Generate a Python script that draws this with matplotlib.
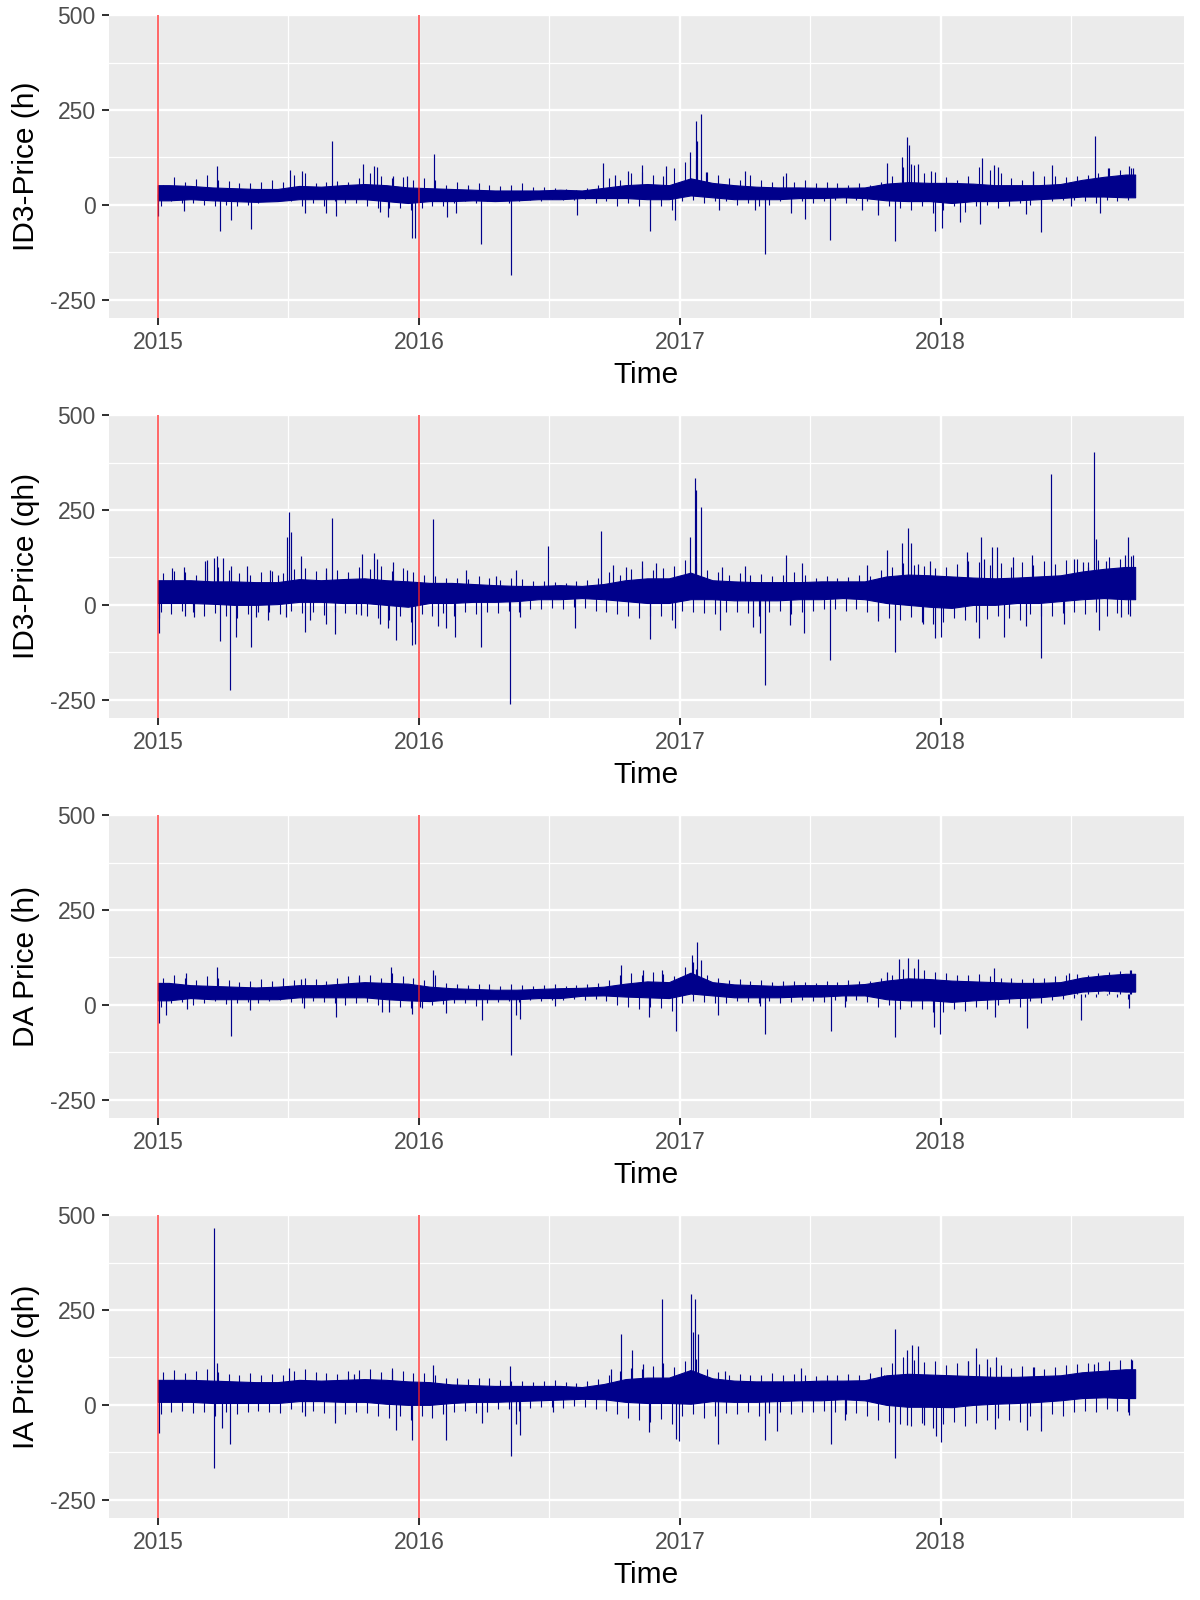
import numpy as np
import matplotlib
matplotlib.use("Agg")
import matplotlib.pyplot as plt

plt.rcParams['font.family'] = ['Liberation Sans', 'DejaVu Sans']

# ---------------- data ----------------
# time in decimal years; series span
t_start = 2015.0
t_end = 2018.745
red_lines = [2015.0, 2016.0]

panel_labels = ["ID3-Price (h)", "ID3-Price (qh)", "DA Price (h)", "IA Price (qh)"]

# monthly envelope of the dense core band (Jan 2015 .. Sep 2018, 45 months)
id3h_top = [52, 50, 46, 44, 42, 42, 50, 48, 52, 55, 52, 46,
            44, 42, 40, 38, 38, 38, 40, 38, 45, 52, 55, 52,
            70, 58, 52, 48, 46, 46, 45, 45, 46, 56, 60, 58,
            58, 56, 52, 52, 52, 55, 66, 74, 80]
id3h_bot = [12, 15, 12, 10, 8, 10, 15, 15, 15, 15, 10, 5,
            10, 10, 12, 10, 12, 15, 15, 18, 18, 18, 15, 15,
            25, 20, 15, 15, 15, 18, 18, 20, 18, 12, 10, 10,
            5, 10, 10, 12, 15, 18, 22, 22, 20]

id3qh_top = [65, 65, 62, 62, 60, 60, 68, 65, 68, 70, 65, 62,
             58, 58, 55, 52, 50, 50, 52, 50, 55, 65, 70, 70,
             85, 65, 62, 60, 60, 60, 62, 62, 62, 75, 80, 78,
             75, 72, 70, 72, 75, 78, 88, 95, 100]
id3qh_bot = [5, 5, 3, 0, 0, 2, 8, 8, 5, 5, 0, -5,
             5, 5, 8, 8, 10, 15, 15, 18, 15, 10, 5, 5,
             15, 15, 12, 12, 12, 15, 15, 18, 15, 5, 0, -5,
             -8, 0, 0, 5, 5, 10, 15, 18, 15]

dah_top = [58, 52, 50, 48, 46, 48, 52, 52, 56, 60, 58, 56,
           48, 44, 42, 40, 40, 42, 44, 45, 48, 56, 62, 60,
           85, 60, 54, 52, 50, 52, 52, 52, 55, 64, 70, 68,
           64, 62, 60, 58, 58, 60, 72, 78, 82]
dah_bot = [12, 18, 15, 15, 15, 15, 20, 20, 20, 20, 15, 12,
           10, 15, 15, 15, 15, 18, 18, 24, 25, 22, 20, 18,
           30, 25, 20, 20, 20, 22, 22, 25, 25, 15, 12, 12,
           8, 12, 15, 18, 20, 25, 35, 38, 35]

iaqh_top = [66, 66, 64, 62, 60, 60, 66, 64, 66, 68, 66, 62,
            60, 54, 52, 50, 50, 50, 50, 47, 55, 68, 72, 72,
            92, 70, 64, 62, 62, 62, 64, 64, 65, 78, 82, 80,
            78, 76, 74, 74, 76, 78, 86, 90, 94]
iaqh_bot = [8, 8, 5, 5, 5, 5, 10, 10, 8, 8, 3, 0,
            0, 5, 8, 8, 10, 12, 14, 16, 15, 8, 5, 5,
            3, 10, 8, 8, 10, 12, 12, 15, 12, 0, -5, -5,
            -6, 0, 3, 5, 8, 12, 18, 20, 18]

# half-monthly reach of the smaller excursions above / below the core band
id3h_hair_up = [53, 73, 61, 68, 79, 66, 63, 57, 59, 61, 66, 61, 79, 83, 59, 61, 64, 61, 70, 85, 75, 70, 73, 66,
                70, 66, 53, 61, 53, 57, 53, 50, 53, 57, 48, 46, 44, 41, 39, 44, 53, 70, 66, 83, 88, 79, 75, 96,
                114, 118, 88, 79, 70, 66, 79, 66, 61, 75, 61, 66, 57, 61, 57, 53, 57, 53, 61, 75, 101, 105, 83, 88,
                73, 66, 76, 101, 92, 83, 70, 66, 88, 75, 76, 73, 75, 79, 85, 96, 92, 96]
id3h_hair_dn = [-4, 9, 4, 4, 0, -4, 0, -4, 0, 4, 9, 13, 9, -4, 4, -3, 9, 4, 4, -4, -9, -9, -9, -13,
                -9, -4, -4, 4, 9, 4, 9, 13, 4, 9, 13, 9, 15, 13, 13, 15, 4, 9, -4, 4, -3, -9, -4, -13,
                9, 13, 4, 9, 9, 0, 4, -4, 0, 9, -3, 9, 4, 9, 13, 4, 13, 9, -13, -4, -9, -13, -4, -22,
                -13, -4, -18, -4, 0, -9, -4, 4, 0, -3, 9, 13, 13, 9, 4, 13, 9, 13]

id3qh_hair_up = [85, 90, 88, 80, 95, 100, 92, 85, 80, 88, 90, 84, 95, 98, 90, 85, 92, 88, 100, 95, 102, 90, 96, 88,
                 80, 76, 72, 70, 68, 75, 70, 66, 72, 68, 64, 62, 60, 58, 62, 66, 70, 88, 80, 95, 100, 92, 96, 102,
                 118, 110, 92, 86, 80, 84, 78, 82, 75, 80, 86, 78, 72, 76, 70, 74, 80, 76, 92, 100, 110, 106, 102, 98,
                 100, 108, 115, 112, 105, 110, 100, 112, 106, 115, 108, 118, 120, 112, 118, 125, 122, 128]
id3qh_hair_dn = [-20, -25, -15, -18, -30, -22, -28, -35, -25, -20, -18, -24, -15, -22, -20, -26, -18, -22, -25, -30, -35, -40, -30, -45,
                 -25, -30, -22, -28, -20, -25, -18, -22, -15, -18, -12, -10, -8, -10, -5, -8, -15, -20, -25, -30, -35, -28, -30, -40,
                 -15, -20, -22, -25, -20, -18, -22, -28, -20, -15, -25, -18, -15, -12, -10, -15, -12, -20, -30, -35, -40, -32, -45, -50,
                 -45, -35, -40, -45, -38, -30, -35, -40, -25, -30, -28, -22, -18, -25, -20, -28, -22, -25]

dah_hair_up = [72, 80, 70, 66, 75, 70, 65, 60, 62, 68, 64, 70, 66, 72, 68, 62, 70, 75, 78, 80, 72, 85, 76, 70,
               65, 80, 58, 55, 52, 56, 54, 50, 55, 52, 50, 52, 54, 50, 52, 55, 58, 66, 78, 85, 80, 88, 82, 75,
               100, 95, 80, 72, 65, 68, 62, 65, 60, 62, 64, 60, 58, 62, 60, 65, 62, 64, 72, 80, 95, 98, 92, 88,
               85, 80, 78, 82, 75, 72, 70, 68, 72, 70, 75, 78, 82, 80, 85, 88, 90, 92]
dah_hair_dn = [-5, 5, 8, 0, 5, 10, 2, 6, 8, 4, 10, 12, 8, 5, 10, 8, 5, 0, 5, 8, 0, 2, -5, -8,
               -8, 0, 2, 5, 4, -2, 6, 8, 10, 8, 12, 10, 12, 14, 15, 12, 16, 10, 0, -5, -10, -5, -8, -15,
               5, 10, 8, 6, 4, 10, 8, 5, 10, 6, 8, 12, 10, 8, 12, 10, 12, 8, -5, 0, -10, -5, -12, -20,
               -20, -10, -15, -5, -12, 0, 5, -5, 10, 5, 12, 15, 18, 22, 20, 25, 22, 15]

iaqh_hair_up = [88, 92, 85, 90, 95, 88, 82, 80, 85, 78, 82, 80, 90, 95, 88, 85, 82, 90, 92, 95, 88, 96, 90, 85,
                85, 80, 72, 70, 68, 72, 70, 66, 64, 62, 60, 62, 65, 60, 58, 62, 68, 80, 90, 98, 95, 102, 110, 100,
                115, 120, 95, 88, 80, 82, 78, 80, 85, 78, 82, 80, 76, 80, 78, 82, 80, 85, 100, 110, 125, 118, 112, 115,
                105, 110, 115, 108, 100, 105, 98, 102, 100, 95, 100, 105, 108, 110, 112, 115, 118, 120]
iaqh_hair_dn = [-25, -20, -15, -22, -18, -28, -20, -25, -18, -15, -20, -22, -12, -18, -15, -22, -20, -25, -18, -22, -28, -35, -30, -40,
                -30, -35, -25, -20, -15, -22, -18, -12, -10, -15, -8, -5, -5, -8, -2, -5, -10, -15, -25, -35, -40, -45, -38, -50,
                -30, -25, -35, -30, -22, -25, -20, -28, -22, -18, -25, -20, -18, -15, -20, -25, -22, -28, -40, -45, -50, -55, -48, -60,
                -50, -45, -55, -48, -40, -35, -40, -45, -30, -35, -25, -28, -20, -15, -18, -12, -15, -20]

# individual spikes (time, price)
id3h_spk_t = [2015.002, 2015.10, 2015.226, 2015.239, 2015.28, 2015.355, 2015.506, 2015.552,
              2015.564, 2015.643, 2015.666, 2015.681, 2015.786, 2015.828, 2015.84, 2015.852,
              2015.88, 2015.902, 2015.955, 2015.975, 2015.987, 2016.058, 2016.107, 2016.143,
              2016.24, 2016.354, 2016.605, 2016.704, 2016.75, 2016.8, 2016.855, 2016.885,
              2016.947, 2016.983, 2017.04, 2017.062, 2017.067, 2017.083, 2017.099, 2017.152,
              2017.25, 2017.287, 2017.328, 2017.408, 2017.425, 2017.478, 2017.576, 2017.697,
              2017.759, 2017.796, 2017.825, 2017.853, 2017.872, 2017.877, 2017.888, 2017.911,
              2017.963, 2017.978, 2018.003, 2018.073, 2018.149, 2018.157, 2018.204, 2018.218,
              2018.326, 2018.352, 2018.385, 2018.425, 2018.5, 2018.59, 2018.612, 2018.64,
              2018.72, 2018.735]
id3h_spk_v = [-30, -15, 103, -70, -39, -63, 92, 89,
              -22, -22, 168, -28, 107, 103, 101, -18,
              -32, 75, 75, -88, -88, 134, -31, -22,
              -103, -184, -26, 110, 79, 90, 105, -68,
              103, -41, 140, 221, 169, 241, 88, -13,
              89, -13, -129, 85, -22, -36, -92, -13,
              -26, 111, -95, 125, 179, 158, 108, 107,
              90, -68, -61, -46, -51, 124, 105, 101,
              -25, 90, -72, 105, -4, 182, -22, 98,
              103, 96]

id3qh_spk_t = [2015.003, 2015.006, 2015.055, 2015.101, 2015.105, 2015.139, 2015.18, 2015.19,
               2015.214, 2015.228, 2015.239, 2015.251, 2015.276, 2015.28, 2015.298, 2015.34,
               2015.355, 2015.376, 2015.43, 2015.421, 2015.46, 2015.49, 2015.495, 2015.503,
               2015.51, 2015.548, 2015.562, 2015.582, 2015.644, 2015.646, 2015.666, 2015.68,
               2015.778, 2015.783, 2015.827, 2015.839, 2015.852, 2015.88, 2015.9, 2015.914,
               2015.954, 2015.974, 2015.984, 2016.056, 2016.074, 2016.105, 2016.14, 2016.179,
               2016.239, 2016.295, 2016.351, 2016.374, 2016.388, 2016.495, 2016.6, 2016.70,
               2016.746, 2016.794, 2016.855, 2016.885, 2016.91, 2016.982, 2017.041, 2017.06,
               2017.064, 2017.082, 2017.153, 2017.163, 2017.25, 2017.282, 2017.309, 2017.326,
               2017.406, 2017.422, 2017.468, 2017.477, 2017.577, 2017.717, 2017.758, 2017.794,
               2017.824, 2017.852, 2017.874, 2017.886, 2017.911, 2017.932, 2017.959, 2017.977,
               2018.0, 2018.102, 2018.148, 2018.154, 2018.164, 2018.198, 2018.214, 2018.242,
               2018.278, 2018.328, 2018.348, 2018.384, 2018.424, 2018.474, 2018.51, 2018.544,
               2018.565, 2018.586, 2018.594, 2018.608, 2018.635, 2018.69, 2018.707, 2018.717,
               2018.725, 2018.737]
id3qh_spk_v = [-73, -35, 97, 100, -29, -33, 115, 119,
               124, 130, -95, 124, -225, 102, -84, 103,
               -112, -33, 91, -40, 80, -31, 179, 245,
               192, 130, -71, -40, 97, -50, 230, -77,
               -26, 135, 137, 121, -50, -62, 112, -93,
               93, -106, -102, 227, -55, -62, -86, 91,
               -112, 75, -262, 93, -31, 156, -60, 196,
               106, 100, 117, -90, 110, -62, 178, 334,
               303, 257, -66, 100, 102, -59, -74, -210,
               131, -52, 110, -75, -146, 106, -43, 144,
               -123, 162, 204, 162, 109, -50, 117, -88,
               -86, 140, -87, 179, 122, 153, 153, -84,
               125, -55, 131, -139, 345, -50, 122, 113,
               100, 403, 175, -66, 117, -33, 131, 178,
               -28, 131]

dah_spk_t = [2015.003, 2015.032, 2015.107, 2015.11, 2015.228, 2015.279, 2015.354, 2015.547,
             2015.56, 2015.681, 2015.769, 2015.857, 2015.893, 2015.885, 2015.973, 2016.005,
             2016.054, 2016.105, 2016.241, 2016.354, 2016.373, 2016.389, 2016.523, 2016.775,
             2016.858, 2016.882, 2016.93, 2016.984, 2017.045, 2017.067, 2017.05, 2017.08,
             2017.145, 2017.306, 2017.327, 2017.58, 2017.633, 2017.794, 2017.823, 2017.842,
             2017.874, 2017.914, 2017.976, 2017.997, 2018.204, 2018.209, 2018.33, 2018.49,
             2018.539, 2018.72, 2018.725]
dah_spk_v = [-48, -27, 84, -10, 99, -82, -14, 67,
             -7, -32, 74, -18, 100, -18, -23, -5,
             93, -21, -40, -131, -27, -36, -4, 105,
             92, -32, 92, -69, 131, 165, 114, 118,
             -27, -4, -76, -69, -5, 87, -85, 120,
             124, 120, -58, -77, 98, -32, -61, 83,
             -39, -8, 92]

iaqh_spk_t = [2015.005, 2015.214, 2015.214, 2015.225, 2015.247, 2015.276, 2015.504, 2015.563,
              2015.678, 2015.751, 2015.898, 2015.911, 2015.973, 2016.054, 2016.105, 2016.241,
              2016.351, 2016.354, 2016.373, 2016.389, 2016.515, 2016.737, 2016.775, 2016.818,
              2016.858, 2016.882, 2016.93, 2016.984, 2016.997, 2017.043, 2017.059, 2017.051,
              2017.07, 2017.145, 2017.172, 2017.327, 2017.373, 2017.466, 2017.58, 2017.633,
              2017.783, 2017.826, 2017.826, 2017.869, 2017.89, 2017.914, 2017.869, 2017.937,
              2017.981, 2018.0, 2018.134, 2018.105, 2018.177, 2018.209, 2018.212, 2018.33,
              2018.384, 2018.357, 2018.587, 2018.732, 2018.72]
iaqh_spk_v = [-73, 466, -167, 110, -61, -102, 97, -28,
              -48, 82, 91, -66, -93, 104, -93, -49,
              102, -136, -50, -79, -20, 94, 186, 146,
              109, -72, 278, -90, -95, 292, 279, 193,
              188, -102, 90, -93, -70, 97, -102, -40,
              80, 201, -139, 144, 157, 154, -52, -52,
              -83, -99, 150, 115, 122, -64, 126, -66,
              -68, 100, 109, 119, -26]

bands = [(id3h_top, id3h_bot), (id3qh_top, id3qh_bot), (dah_top, dah_bot), (iaqh_top, iaqh_bot)]
hairs = [(id3h_hair_up, id3h_hair_dn), (id3qh_hair_up, id3qh_hair_dn),
         (dah_hair_up, dah_hair_dn), (iaqh_hair_up, iaqh_hair_dn)]
spikes = [(id3h_spk_t, id3h_spk_v), (id3qh_spk_t, id3qh_spk_v),
          (dah_spk_t, dah_spk_v), (iaqh_spk_t, iaqh_spk_v)]

y_ticks = [-250, 0, 250, 500]
y_minor = [-125, 125, 375]
x_ticks = [2015, 2016, 2017, 2018]
x_minor = [2015.5, 2016.5, 2017.5, 2018.5]

# ---------------- drawing ----------------
W, H = 1200, 1600
fig = plt.figure(figsize=(W / 100, H / 100), dpi=100)

line_col = '#00008B'
span = t_end - t_start
xlim = (t_start - 0.05 * span, t_end + 0.05 * span)

for k in range(4):
    top_px = 15.3 + 400 * k
    bot_px = 317.5 + 400 * k
    ax = fig.add_axes([109 / W, 1 - bot_px / H, (1184 - 109) / W, (bot_px - top_px) / H])
    ax.set_facecolor('#EBEBEB')
    for s in ax.spines.values():
        s.set_visible(False)

    # grid
    for v in y_minor:
        ax.axhline(v, color='white', lw=0.9, zorder=0)
    for v in x_minor:
        ax.axvline(v, color='white', lw=0.9, zorder=0)
    for v in y_ticks:
        ax.axhline(v, color='white', lw=1.7, zorder=0)
    for v in x_ticks:
        ax.axvline(v, color='white', lw=1.7, zorder=0)

    top, bot = bands[k]
    n = len(top)
    xc = t_start + (np.arange(n) + 0.5) / 12.0
    xb = np.concatenate([[t_start], xc, [t_end]])
    tb = np.concatenate([[top[0]], top, [top[-1]]])
    bb = np.concatenate([[bot[0]], bot, [bot[-1]]])
    ax.fill_between(xb, bb, tb, color=line_col, lw=0.8, edgecolor=line_col, zorder=2)

    hu, hd = hairs[k]
    xh = t_start + (np.arange(len(hu)) + 0.5) / 24.0
    ax.vlines(xh, 30, hu, color=line_col, lw=0.8, zorder=2)
    xh2 = t_start + (np.arange(len(hd)) + 0.25) / 24.0
    ax.vlines(xh2, 30, hd, color=line_col, lw=0.8, zorder=2)

    st, sv = spikes[k]
    ax.vlines(st, 30, sv, color=line_col, lw=0.85, zorder=2)

    for r in red_lines:
        ax.axvline(r, color='#FF2020', lw=1.2, alpha=0.8, zorder=3)

    ax.set_xlim(*xlim)
    ax.set_ylim(-297, 500)
    ax.set_yticks(y_ticks)
    ax.set_yticklabels([str(v) for v in y_ticks])
    ax.set_xticks(x_ticks)
    ax.set_xticklabels([str(v) for v in x_ticks])
    ax.tick_params(axis='both', length=5.2, width=1.45, color='#333333',
                   labelcolor='#4D4D4D', labelsize=16.5, pad=4.5)
    ax.set_xlabel('Time', fontsize=21.5, color='black', labelpad=5)
    ax.set_ylabel(panel_labels[k], fontsize=21.5, color='black', labelpad=7)

fig.savefig('out.png', dpi=100)
